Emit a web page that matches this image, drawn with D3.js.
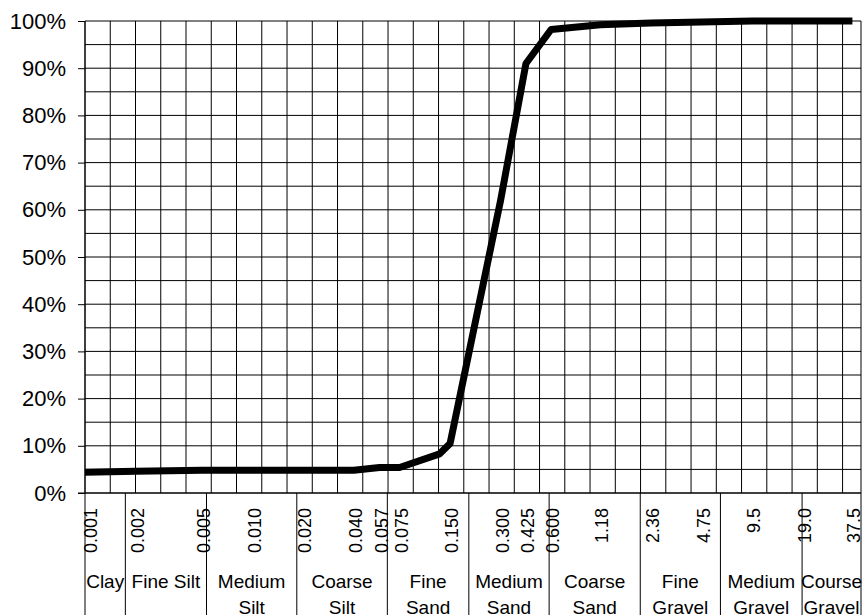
<!DOCTYPE html>
<html>
<head>
<meta charset="utf-8">
<script src="https://cdn.jsdelivr.net/npm/d3@7"></script>
<style>
  body { margin: 0; background: #fff; }
  svg { display: block; font-family: "Liberation Sans", Arial, sans-serif; }
</style>
</head>
<body>
<svg id="chart" width="863" height="615"></svg>
<script>
// sieve sizes (mm) and percent passing
var sizes   = [0.001, 0.002, 0.005, 0.010, 0.020, 0.040, 0.057, 0.075, 0.13, 0.150, 0.300, 0.425, 0.600, 1.18, 2.36, 4.75, 9.5, 19.0, 37.5]
var passing = [4.4,   4.6,   4.8,   4.8,   4.8,   4.8,   5.4,   5.4,   8.3,  10.5,  62,    91,    98.2,  99.2, 99.6, 99.8, 100, 100,  100]

var tickValues = [0.001, 0.002, 0.005, 0.010, 0.020, 0.040, 0.057, 0.075, 0.150, 0.300, 0.425, 0.600, 1.18, 2.36, 4.75, 9.5, 19.0, 37.5]
var tickLabels = ['0.001', '0.002', '0.005', '0.010', '0.020', '0.040', '0.057', '0.075', '0.150', '0.300', '0.425', '0.600', '1.18', '2.36', '4.75', '9.5', '19.0', '37.5']

// class boundaries (mm) as drawn under the axis
var classEdges = [0.00174, 0.0053, 0.0183, 0.0634, 0.194, 0.584, 2.04, 6.13, 18.8]
var classNames = [['Clay'], ['Fine Silt'], ['Medium', 'Silt'], ['Coarse', 'Silt'], ['Fine', 'Sand'],
                  ['Medium', 'Sand'], ['Coarse', 'Sand'], ['Fine', 'Gravel'], ['Medium', 'Gravel'], ['Course', 'Gravel']]

var yTicks = d3.range(0, 101, 10)
var yGrid = d3.range(0, 101, 5)

var xMin = 0.001, xMax = 42.2
var pL = 85, pR = 861, pT = 21, pB = 493, H = 615

var svg = d3.select('#chart')
var x = d3.scaleLog().base(2).domain([xMin, xMax]).range([pL, pR])
var y = d3.scaleLinear().domain([0, 100]).range([pB, pT])

// grid: verticals every half doubling
var xGrid = d3.range(0, 40).map(function(k) { return xMin * Math.pow(2, k / 2) })
    .filter(function(v) { return v <= xMax })

var grid = svg.append('g').attr('stroke', '#000').attr('stroke-width', 1)
grid.selectAll('line.gx')
    .data(xGrid)
    .enter()
        .append('line')
        .attr('class', 'gx')
        .attr('x1', function(d) { return x(d) }).attr('x2', function(d) { return x(d) })
        .attr('y1', pT).attr('y2', pB)
grid.selectAll('line.gy')
    .data(yGrid)
    .enter()
        .append('line')
        .attr('class', 'gy')
        .attr('x1', pL).attr('x2', pR)
        .attr('y1', function(d) { return y(d) }).attr('y2', function(d) { return y(d) })
// right frame
grid.append('line').attr('x1', pR).attr('x2', pR).attr('y1', pT).attr('y2', H)

// y axis
var yAxis = svg.append('g')
    .attr('transform', 'translate(' + pL + ',0)')
    .call(d3.axisLeft(y).tickValues(yTicks).tickFormat(function(d) { return d + '%' }).tickSize(7).tickPadding(12))
yAxis.select('.domain').remove()
yAxis.selectAll('line').attr('stroke', '#000')
yAxis.selectAll('text').attr('font-size', 22).attr('fill', '#000').attr('font-family', '"Liberation Sans", Arial, sans-serif')
svg.append('line').attr('stroke', '#000').attr('x1', pL).attr('x2', pL).attr('y1', pT).attr('y2', H)
svg.append('line').attr('stroke', '#000').attr('x1', pL - 7).attr('x2', pR).attr('y1', pB).attr('y2', pB)

// x tick labels, rotated
svg.selectAll('text.xt')
    .data(tickValues)
    .enter()
        .append('text')
        .attr('class', 'xt')
        .attr('font-size', 18)
        .attr('text-anchor', 'end')
        .attr('dominant-baseline', 'central')
        .attr('transform', function(d) {
            var px = Math.max(x(d) + 2, pL + 6)
            return 'translate(' + px + ',508) rotate(-90)'
        })
        .text(function(d, i) { return tickLabels[i] })

// class boundary lines and names
svg.selectAll('line.cb')
    .data(classEdges)
    .enter()
        .append('line')
        .attr('class', 'cb')
        .attr('stroke', '#000')
        .attr('x1', function(d) { return x(d) }).attr('x2', function(d) { return x(d) })
        .attr('y1', pB).attr('y2', H)

var edgesPx = [pL].concat(classEdges.map(x)).concat([pR])
var names = svg.selectAll('text.cn')
    .data(classNames)
    .enter()
        .append('text')
        .attr('class', 'cn')
        .attr('font-size', 19)
        .attr('text-anchor', 'middle')
        .attr('x', function(d, i) { return (edgesPx[i] + edgesPx[i + 1]) / 2 })
        .attr('y', 588)
names.selectAll('tspan')
    .data(function(d) { return d })
    .enter()
        .append('tspan')
        .attr('x', function() { return d3.select(this.parentNode).attr('x') })
        .attr('dy', function(d, i) { return i == 0 ? 0 : 26 })
        .text(function(d) { return d })

// grading curve
var line = d3.line()
    .x(function(d, i) { return x(sizes[i]) })
    .y(function(d) { return y(d) })
svg.append('path')
    .datum(passing)
    .attr('fill', 'none')
    .attr('stroke', '#000')
    .attr('stroke-width', 7)
    .attr('stroke-linejoin', 'round')
    .attr('d', line)
</script>
</body>
</html>
